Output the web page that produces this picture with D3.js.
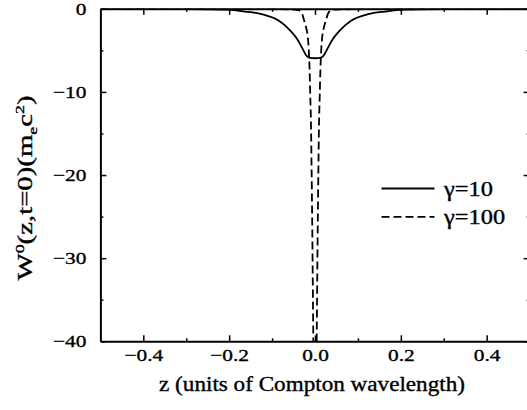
<!DOCTYPE html>
<html>
<head>
<meta charset="utf-8">
<script src="https://cdn.jsdelivr.net/npm/d3@7"></script>
<style>
body { margin: 0; background: #fff; }
svg text { stroke: #000; stroke-width: 0.35px; }
</style>
</head>
<body>
<div id="chart"></div>
<script>
var W = 527, H = 410
var serif = "'Liberation Serif', 'Times New Roman', serif"

// tick values
var zMajor = [-0.4, -0.2, 0, 0.2, 0.4]
var zMinor = [-0.3, -0.1, 0.1, 0.3]
var wMajor = [0, -10, -20, -30, -40]
var wMinor = [-5, -15, -25, -35]

// gamma = 10 (solid)
var z10 = [-0.5, -0.4, -0.3, -0.25, -0.21, -0.163, -0.124, -0.084, -0.058, -0.042, -0.03, -0.019, -0.012, 0,
            0.012, 0.019, 0.03, 0.042, 0.058, 0.084, 0.124, 0.163, 0.21, 0.25, 0.3, 0.4, 0.5]
var w10 = [-0.02, -0.03, -0.05, -0.07, -0.11, -0.33, -0.65, -1.45, -2.6, -3.6, -4.7, -5.7, -5.9, -5.95,
           -5.9, -5.7, -4.7, -3.6, -2.6, -1.45, -0.65, -0.33, -0.11, -0.07, -0.05, -0.03, -0.02]

// gamma = 100 (dashed)
var z100 = [-0.5, -0.3, -0.2, -0.1, -0.06, -0.045, -0.0385, -0.03, -0.0256, -0.02, -0.018, -0.0145, -0.0125, -0.011,
            -0.0093, -0.008, -0.0063, -0.005, -0.004, -0.003, 0,
            0.003, 0.004, 0.005, 0.0063, 0.008, 0.0093, 0.011, 0.0125, 0.0145, 0.018, 0.02, 0.0256, 0.03, 0.0385,
            0.045, 0.06, 0.1, 0.2, 0.3, 0.5]
var w100 = [-0.01, -0.02, -0.02, -0.04, -0.07, -0.11, -0.16, -0.6, -1.36, -2.4, -2.9, -4.96, -7.5, -10.5,
            -14, -19, -26.6, -33.8, -39.5, -47, -60,
            -47, -39.5, -33.8, -26.6, -19, -14, -10.5, -7.5, -4.96, -2.9, -2.4, -1.36, -0.6, -0.16,
            -0.11, -0.07, -0.04, -0.02, -0.02, -0.01]

var seriesNames = ['\u03b3=10', '\u03b3=100']
var seriesDash = [null, '8,4']

var sx = 1.22  // the glyphs in the original are wide

var x = d3.scaleLinear().domain([-0.5, 0.5]).range([100.4, 529.6])
var y = d3.scaleLinear().domain([-40, 0]).range([341.3, 8.8])

var svg = d3.select('#chart').append('svg')
            .attr('width', W)
            .attr('height', H)
            .style('font-family', serif)

svg.append('clipPath').attr('id', 'clip')
   .append('rect')
   .attr('x', x(-0.5)).attr('y', y(0))
   .attr('width', x(0.5) - x(-0.5)).attr('height', y(-40) - y(0))

function styleAxis(g, lw) {
	g.attr('font-family', null).attr('font-size', null)
	g.select('.domain').attr('stroke-width', 2)
	g.selectAll('.tick line').attr('stroke-width', lw)
	g.selectAll('.tick text').style('font-size', '17.5px').style('font-family', serif).attr('fill', '#000')
}

function minorAxis(g) {
	g.select('.domain').remove()
	g.selectAll('line').attr('stroke-width', 1.5)
}

// bottom
var gb = svg.append('g').attr('transform', 'translate(0,' + y(-40) + ')')
	.call(d3.axisBottom(x).tickValues(zMajor).tickSize(-6).tickSizeOuter(0).tickPadding(7)
	      .tickFormat(d3.format('.1f')))
styleAxis(gb, 1.5)
gb.selectAll('.tick text').attr('transform', 'scale(' + sx + ',1)')
svg.append('g').attr('transform', 'translate(0,' + y(-40) + ')')
	.call(d3.axisBottom(x).tickValues(zMinor).tickSize(-3).tickSizeOuter(0).tickFormat(''))
	.call(minorAxis)

// top
var gt = svg.append('g').attr('transform', 'translate(0,' + y(0) + ')')
	.call(d3.axisTop(x).tickValues(zMajor).tickSize(-6).tickSizeOuter(0).tickFormat(''))
styleAxis(gt, 1.5)
svg.append('g').attr('transform', 'translate(0,' + y(0) + ')')
	.call(d3.axisTop(x).tickValues(zMinor).tickSize(-3).tickSizeOuter(0).tickFormat(''))
	.call(minorAxis)

// left
var gl = svg.append('g').attr('transform', 'translate(' + x(-0.5) + ',0)')
	.call(d3.axisLeft(y).tickValues(wMajor).tickSize(-6).tickSizeOuter(0).tickPadding(14)
	      .tickFormat(d3.format('d')))
styleAxis(gl, 1.5)
gl.selectAll('.tick text').each(function() {
	var t = d3.select(this)
	var x0 = +t.attr('x')
	t.attr('x', 0).attr('transform', 'translate(' + x0 + ',0) scale(' + sx + ',1)')
})
svg.append('g').attr('transform', 'translate(' + x(-0.5) + ',0)')
	.call(d3.axisLeft(y).tickValues(wMinor).tickSize(-3).tickSizeOuter(0).tickFormat(''))
	.call(minorAxis)

// right
var gr = svg.append('g').attr('transform', 'translate(' + x(0.5) + ',0)')
	.call(d3.axisRight(y).tickValues(wMajor).tickSize(-6).tickSizeOuter(0).tickFormat(''))
styleAxis(gr, 1.5)
svg.append('g').attr('transform', 'translate(' + x(0.5) + ',0)')
	.call(d3.axisRight(y).tickValues(wMinor).tickSize(-3).tickSizeOuter(0).tickFormat(''))
	.call(minorAxis)

// curves
var line = d3.line().x(d => x(d[0])).y(d => y(d[1])).curve(d3.curveMonotoneX)
var curves = [d3.zip(z10, w10), d3.zip(z100, w100)]
var plot = svg.append('g').attr('clip-path', 'url(#clip)')
curves.forEach((c, i) => {
	plot.append('path').datum(c)
		.attr('d', line)
		.attr('fill', 'none')
		.attr('stroke', '#000')
		.attr('stroke-width', 1.8)
		.attr('stroke-dasharray', seriesDash[i])
})

// legend
var legend = svg.append('g')
seriesNames.forEach((name, i) => {
	var ly = 188.5 + i * 28.3
	legend.append('line')
		.attr('x1', 381.5).attr('x2', 434.5)
		.attr('y1', ly).attr('y2', ly)
		.attr('stroke', '#000').attr('stroke-width', 1.8)
		.attr('stroke-dasharray', seriesDash[i])
	legend.append('text')
		.attr('transform', 'translate(444,' + (ly + 7) + ') scale(' + sx + ',1)')
		.style('font-family', serif)
		.style('font-size', '20px')
		.text(name)
})

// axis titles
var xt = svg.append('text')
	.attr('text-anchor', 'middle')
	.style('font-family', serif)
	.style('font-size', '20px')
	.text('z (units of Compton wavelength)')
var xw = xt.node().getComputedTextLength()
xt.attr('transform', 'translate(312,391) scale(' + (306 / xw) + ',1)')

var yt = svg.append('text')
	.attr('text-anchor', 'middle')
	.style('font-family', serif)
	.style('font-size', '21px')
yt.append('tspan').text('W')
yt.append('tspan').attr('dy', -8).style('font-size', '13px').text('0')
yt.append('tspan').attr('dy', 8).text('(z,t=0)(m')
yt.append('tspan').attr('dy', 5).style('font-size', '13px').text('e')
yt.append('tspan').attr('dy', -5).text('c')
yt.append('tspan').attr('dy', -8).style('font-size', '13px').text('2')
yt.append('tspan').attr('dy', 8).text(')')
var yw = yt.node().getBBox().width
yt.attr('transform', 'translate(31.5,188) rotate(-90) scale(' + (185 / yw) + ',1)')
</script>
</body>
</html>
